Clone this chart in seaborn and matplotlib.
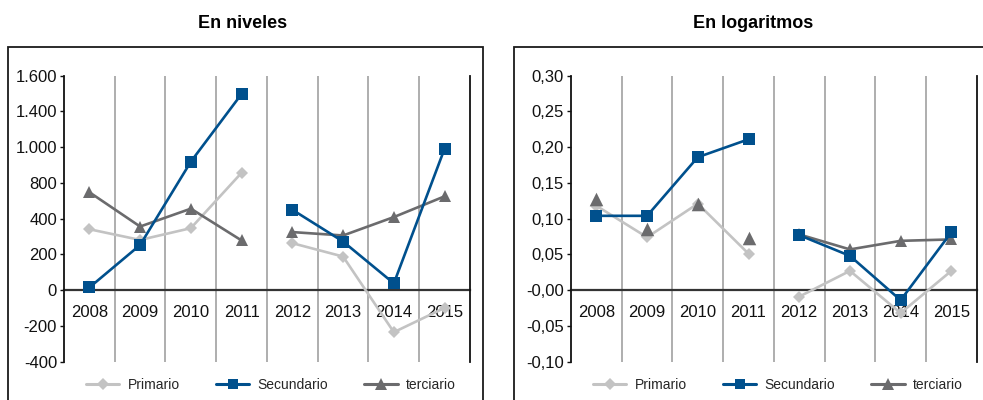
import numpy as np
import pandas as pd
import matplotlib
matplotlib.use("Agg")
import matplotlib.pyplot as plt
from matplotlib.patches import Rectangle
import seaborn as sns

years = [2008, 2009, 2010, 2011, 2012, 2013, 2014, 2015]
series_names = ["Primario", "Secundario", "terciario"]

# Panel 1: "En niveles" (values in the axis' linear units)
niv_primario = [341, 281, 347, 657, 263, 188, -235, -99]
niv_secundario = [15, 253, 719, 1098, 450, 272, 38, 792]
niv_terciario = [548, 356, 456, 278, 325, 306, 409, 525]

# Panel 2: "En logaritmos"
log_primario = [0.118, 0.074, 0.121, 0.051, -0.009, 0.027, -0.032, 0.027]
log_secundario = [0.104, 0.104, 0.186, 0.211, 0.077, 0.048, -0.014, 0.081]
log_terciario = [0.127, 0.086, 0.121, 0.073, 0.078, 0.057, 0.069, 0.071]

niv_yticks = [-400, -200, 0, 200, 400, 600, 800, 1000, 1200]
niv_yticklabels = ["-400", "-200", "0", "200", "400", "800", "1.000", "1.400", "1.600"]
log_yticks = [-0.10, -0.05, 0.0, 0.05, 0.10, 0.15, 0.20, 0.25, 0.30]
log_yticklabels = ["-0,10", "-0,05", "-0,00", "0,05", "0,10", "0,15", "0,20", "0,25", "0,30"]

titles = ["En niveles", "En logaritmos"]

palette = {"Primario": "#C3C3C3", "Secundario": "#00508D", "terciario": "#6B6B6D"}
markers = {"Primario": "D", "Secundario": "s", "terciario": "^"}
msizes = {"Primario": 6.5, "Secundario": 8, "terciario": 9}
leg_msizes = {"Primario": 6, "Secundario": 7, "terciario": 8}

FONT = ["Liberation Sans", "DejaVu Sans"]

sns.set_theme(style="white")
plt.rcParams["font.family"] = FONT


def build(p, s, t):
    rows = []
    for name, vals in zip(series_names, [p, s, t]):
        for y, v in zip(years, vals):
            rows.append({"year": y, "value": v, "serie": name,
                         "segment": 0 if y <= 2011 else 1})
    return pd.DataFrame(rows)


df_niv = build(niv_primario, niv_secundario, niv_terciario)
df_log = build(log_primario, log_secundario, log_terciario)

fig = plt.figure(figsize=(9.83, 4.0), dpi=100)

ax_pos = [[0.0651, 0.0958, 0.413, 0.7150], [0.5809, 0.0958, 0.4127, 0.7150]]

# outer panel frames
for x0, x1 in [(7.5 / 983, 483 / 983), (514 / 983, 990 / 983)]:
    fig.add_artist(Rectangle((x0, -0.05), x1 - x0, 1 - 47 / 400 + 0.05,
                             transform=fig.transFigure, fill=False,
                             edgecolor="#1a1a1a", linewidth=1.3))

fig.text(243 / 983, 1 - 23 / 400, titles[0], ha="center", va="center",
         fontsize=13, fontweight="bold", family=FONT, color="#000000")
fig.text(753 / 983, 1 - 23 / 400, titles[1], ha="center", va="center",
         fontsize=13, fontweight="bold", family=FONT, color="#000000")

configs = [
    (df_niv, niv_yticks, niv_yticklabels, (-400, 1200), False),
    (df_log, log_yticks, log_yticklabels, (-0.10, 0.30), True),
]

for i, (df, yt, ytl, ylim, terc_nolines) in enumerate(configs):
    ax = fig.add_axes(ax_pos[i])
    if terc_nolines:
        mask = (df["serie"] == "terciario") & (df["segment"] == 0)
        line_df = df[~mask]
        pts_df = df[mask]
    else:
        line_df = df
        pts_df = None

    sns.lineplot(data=line_df, x="year", y="value", hue="serie", style="serie",
                 hue_order=series_names, style_order=series_names,
                 palette=palette, markers=markers, dashes=False,
                 units="segment", estimator=None, linewidth=1.9,
                 markeredgewidth=0, ax=ax, legend=True)
    if pts_df is not None:
        sns.scatterplot(data=pts_df, x="year", y="value", color=palette["terciario"],
                        marker="^", s=95, linewidth=0, ax=ax, legend=False, zorder=2.3)

    # marker sizes / z-order per series
    for ln in ax.lines:
        c = matplotlib.colors.to_hex(ln.get_color()).upper()
        for name, col in palette.items():
            if c == col.upper():
                ln.set_markersize(msizes[name])
                ln.set_zorder({"Primario": 2.2, "terciario": 2.4, "Secundario": 2.8}[name])

    ax.set_xlim(2007.5, 2015.5)
    ax.set_ylim(*ylim)
    ax.set_yticks(yt)
    ax.set_yticklabels(ytl)
    ax.set_xticks(years)
    ax.set_xticklabels([str(y) for y in years])
    ax.set_xticks(np.arange(2008.5, 2015.5, 1.0), minor=True)
    ax.grid(False)
    ax.grid(True, which="minor", axis="x", color="#A8A8A8", linewidth=1.3)
    ax.set_xlabel("")
    ax.set_ylabel("")

    for side in ["left", "right"]:
        ax.spines[side].set_visible(True)
        ax.spines[side].set_color("#111111")
        ax.spines[side].set_linewidth(1.3)
    ax.spines["top"].set_visible(False)
    ax.spines["bottom"].set_position(("data", 0))
    ax.spines["bottom"].set_color("#333333")
    ax.spines["bottom"].set_linewidth(1.6)
    ax.spines["bottom"].set_zorder(1.5)

    ax.tick_params(axis="x", which="both", length=0, pad=11, labelsize=12,
                   labelcolor="#111111")
    ax.tick_params(axis="y", length=3, width=1, color="#111111", pad=2,
                   labelsize=12, labelcolor="#111111", left=True)
    for lab in ax.get_xticklabels() + ax.get_yticklabels():
        lab.set_family(FONT)

    sns.move_legend(ax, "center", bbox_to_anchor=(0.51, -0.082), ncol=3,
                    frameon=False, title=None, fontsize=10, handlelength=2.4,
                    columnspacing=2.6, handletextpad=0.6)
    leg = ax.get_legend()
    for t in leg.get_texts():
        t.set_family(FONT)
    for h, t in zip(leg.legend_handles, leg.get_texts()):
        name = t.get_text()
        if name in leg_msizes:
            h.set_markersize(leg_msizes[name])
            h.set_markeredgewidth(0)
            h.set_linewidth(2.2)

fig.savefig("out.png", dpi=100)
